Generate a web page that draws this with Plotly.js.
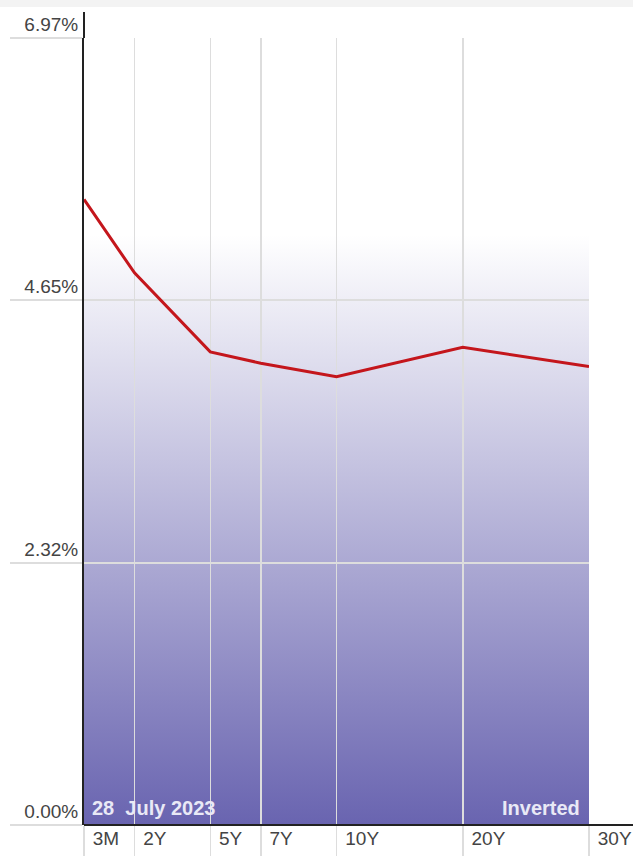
<!DOCTYPE html>
<html>
<head>
<meta charset="utf-8">
<script src="https://cdn.plot.ly/plotly-3.0.1.min.js"></script>
<style>
  html, body { margin: 0; padding: 0; background: #fff; }
  #strip { height: 7px; background: #f3f3f3; width: 633px; }
  #chart { width: 633px; height: 849px; }
</style>
</head>
<body>
<div id="strip"></div>
<div id="chart"></div>
<script>
// ---- data ----
const maturityLabels = ["3M", "2Y", "5Y", "7Y", "10Y", "20Y", "30Y"];
const maturityYears  = [0.25, 2, 5, 7, 10, 20, 30];
const yieldPct       = [5.54, 4.89, 4.19, 4.09, 3.97, 4.23, 4.06];
const yTickVals      = [0, 2.32, 4.65, 6.97];
const yTickText      = ["0.00%", "2.32%", "4.65%", "6.97%"];
const dateLabel      = "28\u00a0\u00a0July 2023";
const stateLabel     = "Inverted";

// maturity scale: sub-year maturities sit at 0, linear up to 10Y, half-rate beyond
function maturityScale(y) { return y <= 10 ? Math.floor(y) : 10 + (y - 10) / 2; }
const xPos = maturityYears.map(maturityScale);

// ---- layout geometry ----
const W = 633, H = 849;
const mL = 84, mR = 44, mT = 31, mB = 31;
const plotW = W - mL - mR, plotH = H - mT - mB;

const grad = "<svg xmlns='http://www.w3.org/2000/svg' width='10' height='100' preserveAspectRatio='none'>" +
  "<defs><linearGradient id='g' x1='0' y1='0' x2='0' y2='1'>" +
  "<stop offset='0.25' stop-color='#ffffff'/>" +
  "<stop offset='1' stop-color='#6964b0'/>" +
  "</linearGradient></defs><rect width='10' height='100' fill='url(#g)'/></svg>";

const trace = {
  x: xPos,
  y: yieldPct,
  text: maturityLabels,
  type: "scatter",
  mode: "lines",
  line: { color: "#c4161c", width: 3 },
  hoverinfo: "text+y"
};

const font = { family: "Liberation Sans, Arial, sans-serif", size: 19, color: "#444" };
const noteFont = { family: "Liberation Sans, Arial, sans-serif", size: 20, color: "#e9e9f6", weight: "bold" };

const layout = {
  width: W, height: H,
  margin: { l: mL, r: mR, t: mT, b: mB, pad: 0 },
  paper_bgcolor: "#ffffff",
  plot_bgcolor: "rgba(0,0,0,0)",
  showlegend: false,
  font: font,
  xaxis: {
    range: [maturityScale(maturityYears[0]), maturityScale(maturityYears[maturityYears.length - 1])],
    tickmode: "array",
    tickvals: xPos,
    ticktext: maturityLabels,
    ticks: "outside",
    ticklen: 31,
    tickwidth: 1.5,
    tickcolor: "#dddddd",
    ticklabelposition: "outside right",
    ticklabelshift: 8,
    ticklabelstandoff: -4,
    showgrid: true,
    gridcolor: "#dddddd",
    gridwidth: 1.5,
    zeroline: false,
    showline: false,
    tickfont: font,
    fixedrange: true
  },
  yaxis: {
    range: [0, 6.97],
    tickmode: "array",
    tickvals: yTickVals,
    ticktext: yTickText,
    ticks: "outside",
    ticklen: 72,
    tickwidth: 1.5,
    tickcolor: "#dddddd",
    ticklabelposition: "outside top",
    ticklabeloverflow: "allow",
    ticklabelstandoff: 0,
    showgrid: true,
    gridcolor: "#dddddd",
    gridwidth: 1.5,
    zeroline: false,
    showline: true,
    linecolor: "#222222",
    linewidth: 2,
    tickfont: font,
    fixedrange: true
  },
  images: [{
    source: "data:image/svg+xml;utf8," + encodeURIComponent(grad),
    xref: "paper", yref: "paper",
    x: 0, y: 1, sizex: 1, sizey: 1,
    xanchor: "left", yanchor: "top",
    sizing: "stretch", layer: "below"
  }],
  shapes: [
    { type: "line", xref: "paper", yref: "paper", x0: 0, x1: (W - mL) / plotW, y0: 0, y1: 0,
      line: { color: "#222222", width: 2 } },
    { type: "line", xref: "paper", yref: "paper", x0: 0, x1: 0, y0: 1, y1: 1 + 26 / plotH,
      line: { color: "#222222", width: 2 } }
  ],
  annotations: [
    { text: dateLabel, xref: "paper", yref: "paper", x: 0, y: 0, xanchor: "left", yanchor: "bottom",
      xshift: 6, yshift: 4, showarrow: false, font: noteFont },
    { text: stateLabel, xref: "paper", yref: "paper", x: 1, y: 0, xanchor: "right", yanchor: "bottom",
      xshift: -7, yshift: 4, showarrow: false, font: noteFont }
  ]
};

Plotly.newPlot("chart", [trace], layout, { displayModeBar: false, staticPlot: true });
</script>
</body>
</html>
